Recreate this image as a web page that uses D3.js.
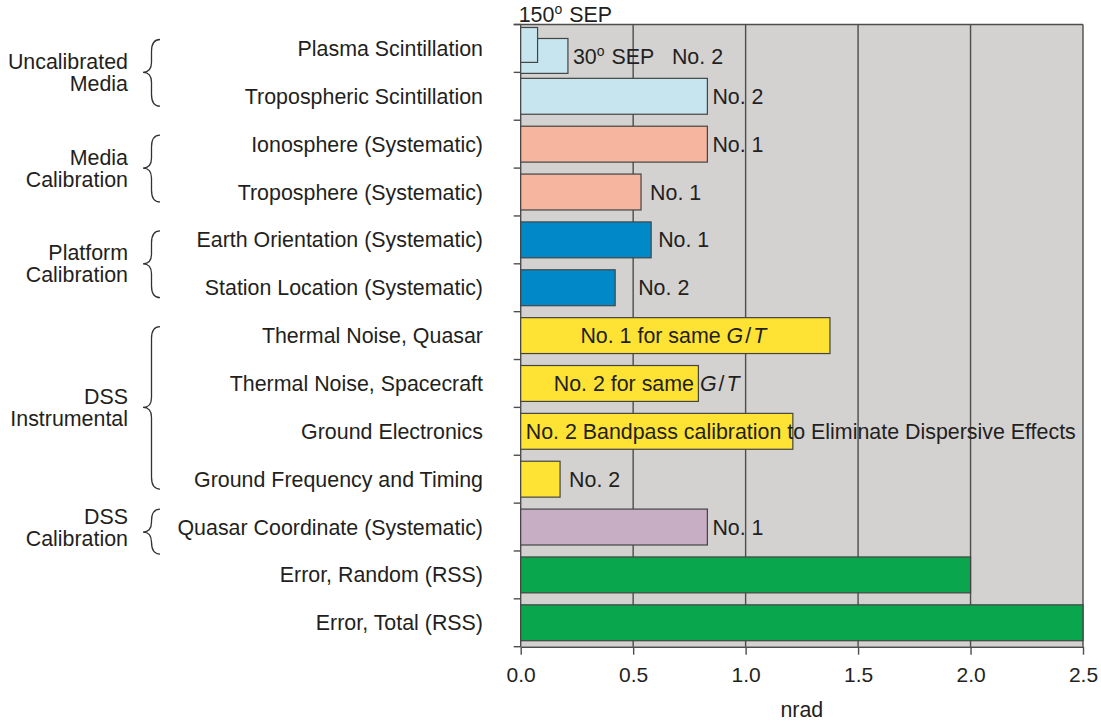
<!DOCTYPE html>
<html>
<head>
<meta charset="utf-8">
<script src="https://cdn.jsdelivr.net/npm/d3@7"></script>
<style>
  body { margin: 0; background: #fff; }
  text { font-family: "Liberation Sans", Arial, Helvetica, sans-serif; font-size: 21.4px; fill: #231f20; }
</style>
</head>
<body>
<div id="chart"></div>
<script>
// Error budget rows, top to bottom
var categories = [
    "Plasma Scintillation",
    "Tropospheric Scintillation",
    "Ionosphere (Systematic)",
    "Troposphere (Systematic)",
    "Earth Orientation (Systematic)",
    "Station Location (Systematic)",
    "Thermal Noise, Quasar",
    "Thermal Noise, Spacecraft",
    "Ground Electronics",
    "Ground Frequency and Timing",
    "Quasar Coordinate (Systematic)",
    "Error, Random (RSS)",
    "Error, Total (RSS)"
];

// nrad
var values = [0.21, 0.83, 0.83, 0.535, 0.58, 0.42, 1.375, 0.79, 1.21, 0.175, 0.83, 2.0, 2.5];

// Plasma scintillation for two Sun-Earth-probe angles
var sepAngles = ["150", "30"];
var sepValues = [0.075, 0.21];

var barLabels = [
    "", "No. 2", "No. 1", "No. 1", "No. 1", "No. 2",
    "No. 1 for same G/T", "No. 2 for same G/T",
    "No. 2 Bandpass calibration to Eliminate Dispersive Effects",
    "No. 2", "No. 1", "", ""
];

var rowGroup = ["uncal", "uncal", "media", "media", "platform", "platform",
    "dss", "dss", "dss", "dss", "dsscal", "error", "error"];

var groupKeys = ["uncal", "media", "platform", "dss", "dsscal"];
var groupLabels = [
    ["Uncalibrated", "Media"],
    ["Media", "Calibration"],
    ["Platform", "Calibration"],
    ["DSS", "Instrumental"],
    ["DSS", "Calibration"]
];

var xTicks = [0, 0.5, 1.0, 1.5, 2.0, 2.5];
var xTitle = "nrad";

// Colours per group
var colour = {
    uncal: "#c6e5ee",
    media: "#f6b59e",
    platform: "#0088c8",
    dss: "#ffe334",
    dsscal: "#c7aec4",
    error: "#0aa64d"
};

// Label gaps after the bar end (px)
var labelDx = { 1: 5, 2: 5, 3: 9, 4: 7, 5: 23, 9: 9, 10: 5 };

var width = 1101, height = 721;

var svg = d3.select("#chart")
    .append("svg")
    .attr("width", width)
    .attr("height", height);

var x = d3.scaleLinear()
    .domain([0, 2.5])
    .range([520.7, 1083]);

var y = d3.scaleBand()
    .domain(categories)
    .range([24.5, 646.7])
    .paddingInner(0.25)
    .paddingOuter(0.125);

var step = y.step();
var top0 = y.range()[0], bottom0 = y.range()[1];
function bandTop(i) { return y(categories[i]) - step * 0.125; }
function bandMid(i) { return y(categories[i]) + y.bandwidth() / 2; }

// Gray plot background
svg.append("rect")
    .attr("x", x(0))
    .attr("y", top0)
    .attr("width", x(2.5) - x(0))
    .attr("height", bottom0 - top0)
    .attr("fill", "#d3d2d0");

// Vertical grid lines
svg.selectAll(".grid")
    .data(xTicks)
    .enter()
    .append("line")
    .attr("class", "grid")
    .attr("x1", function(d) { return x(d); })
    .attr("x2", function(d) { return x(d); })
    .attr("y1", top0)
    .attr("y2", bottom0)
    .attr("stroke", "#4d4d4d")
    .attr("stroke-width", 1.4);

// Bars (the plasma row is drawn separately)
svg.selectAll(".bar")
    .data(values.map(function(v, i) { return { v: v, i: i }; }).filter(function(d) { return d.i > 0; }))
    .enter()
    .append("rect")
    .attr("class", "bar")
    .attr("x", x(0))
    .attr("y", function(d) { return y(categories[d.i]); })
    .attr("width", function(d) { return x(d.v) - x(0); })
    .attr("height", y.bandwidth())
    .attr("fill", function(d) { return colour[rowGroup[d.i]]; })
    .attr("stroke", "#444")
    .attr("stroke-width", 1.2);

// Plasma scintillation: 30 deg bar behind, 150 deg bar in front
var sepShift = [-3, 8];
[1, 0].forEach(function(k) {
    svg.append("rect")
        .attr("x", x(0))
        .attr("y", y(categories[0]) + sepShift[k])
        .attr("width", x(sepValues[k]) - x(0))
        .attr("height", y.bandwidth() - 1)
        .attr("fill", colour.uncal)
        .attr("stroke", "#444")
        .attr("stroke-width", 1.2);
});

// Frame: top line, row ticks on the left
svg.append("line")
    .attr("x1", x(0) - 7).attr("x2", x(2.5))
    .attr("y1", top0).attr("y2", top0)
    .attr("stroke", "#4d4d4d").attr("stroke-width", 1.4);

svg.selectAll(".rowtick")
    .data(d3.range(categories.length + 1))
    .enter()
    .append("line")
    .attr("class", "rowtick")
    .attr("x1", x(0) - 7).attr("x2", x(0))
    .attr("y1", function(i) { return top0 + i * step; })
    .attr("y2", function(i) { return top0 + i * step; })
    .attr("stroke", "#4d4d4d").attr("stroke-width", 1.4);

// Bottom axis
var xAxis = svg.append("g")
    .attr("transform", "translate(0," + bottom0 + ")")
    .call(d3.axisBottom(x)
        .tickValues(xTicks)
        .tickFormat(d3.format(".1f"))
        .tickSize(8)
        .tickSizeOuter(0)
        .tickPadding(12));
xAxis.select(".domain").attr("stroke", "#4d4d4d").attr("stroke-width", 1.4);
xAxis.selectAll(".tick line").attr("stroke", "#4d4d4d").attr("stroke-width", 1.4);
xAxis.selectAll("text")
    .attr("font-family", null)
    .attr("font-size", null)
    .style("font-size", "21px")
    .attr("fill", "#231f20");

svg.append("text")
    .attr("x", (x(0) + x(2.5)) / 2)
    .attr("y", 717)
    .attr("text-anchor", "middle")
    .text(xTitle);

// Category labels
svg.selectAll(".cat")
    .data(categories)
    .enter()
    .append("text")
    .attr("class", "cat")
    .attr("x", 483)
    .attr("y", function(d, i) { return bandMid(i); })
    .attr("dy", "0.35em")
    .attr("text-anchor", "end")
    .text(function(d) { return d; });

// Write a label, setting G and T in italics
function writeLabel(sel, label) {
    var m = label.match(/^(.*)G\/T$/);
    if (!m) { sel.text(label); return; }
    sel.append("tspan").text(m[1]);
    sel.append("tspan").attr("font-style", "italic").text("G");
    sel.append("tspan").attr("dx", 2).text("/");
    sel.append("tspan").attr("dx", 2).attr("font-style", "italic").text("T");
}

// Bar labels
barLabels.forEach(function(label, i) {
    if (!label) return;
    var t = svg.append("text")
        .attr("y", bandMid(i))
        .attr("dy", "0.35em");
    if (i === 6) {
        t.attr("x", (x(0) + x(values[i])) / 2 - 2).attr("text-anchor", "middle");
    } else if (i === 7) {
        t.attr("x", x(0) + 33);
    } else if (i === 8) {
        t.attr("x", x(0) + 5);
    } else {
        t.attr("x", x(values[i]) + labelDx[i]);
    }
    writeLabel(t, label);
});

// SEP labels for the plasma row
function sepLabel(xp, yp, angle) {
    var t = svg.append("text").attr("x", xp).attr("y", yp);
    t.append("tspan").text(angle);
    t.append("tspan").attr("dy", -8).style("font-size", "14px").text("o");
    t.append("tspan").attr("dy", 8).attr("dx", 1).text(" SEP");
    return t;
}
sepLabel(x(0) - 2, 21.5, sepAngles[0]);
var sepMid = y(categories[0]) + sepShift[1] + y.bandwidth() / 2;
sepLabel(x(sepValues[1]) + 5, sepMid + 7.5, sepAngles[1]);
svg.append("text")
    .attr("x", x(sepValues[1]) + 104)
    .attr("y", sepMid)
    .attr("dy", "0.35em")
    .text("No. 2");

// Group braces and labels
function bracePath(y0, y1, ym) {
    var xe = 160, xs = 151.5, xt = 143;
    return "M" + xe + "," + y0 +
        "Q" + xs + "," + y0 + " " + xs + "," + (y0 + 12) +
        "L" + xs + "," + (ym - 10) +
        "Q" + xs + "," + ym + " " + xt + "," + ym +
        "Q" + xs + "," + ym + " " + xs + "," + (ym + 10) +
        "L" + xs + "," + (y1 - 12) +
        "Q" + xs + "," + y1 + " " + xe + "," + y1;
}

groupKeys.forEach(function(key, g) {
    var rows = d3.range(categories.length).filter(function(i) { return rowGroup[i] === key; });
    var first = rows[0], last = rows[rows.length - 1];
    var center = (bandTop(first) + bandTop(last) + step) / 2;
    var y0, y1, ym;
    if (rows.length > 1) {
        y0 = bandTop(first) + 15;
        y1 = bandTop(last) + step - 14;
        ym = center;
    } else {
        ym = center + 5;
        y0 = ym - 23;
        y1 = ym + 22;
    }
    svg.append("path")
        .attr("d", bracePath(y0, y1, ym))
        .attr("fill", "none")
        .attr("stroke", "#333")
        .attr("stroke-width", 1.3);

    var t = svg.append("text")
        .attr("text-anchor", "end");
    groupLabels[g].forEach(function(line, k) {
        t.append("tspan")
            .attr("x", 128)
            .attr("y", center + 7.5 - 11 + k * 22)
            .text(line);
    });
});
</script>
</body>
</html>
